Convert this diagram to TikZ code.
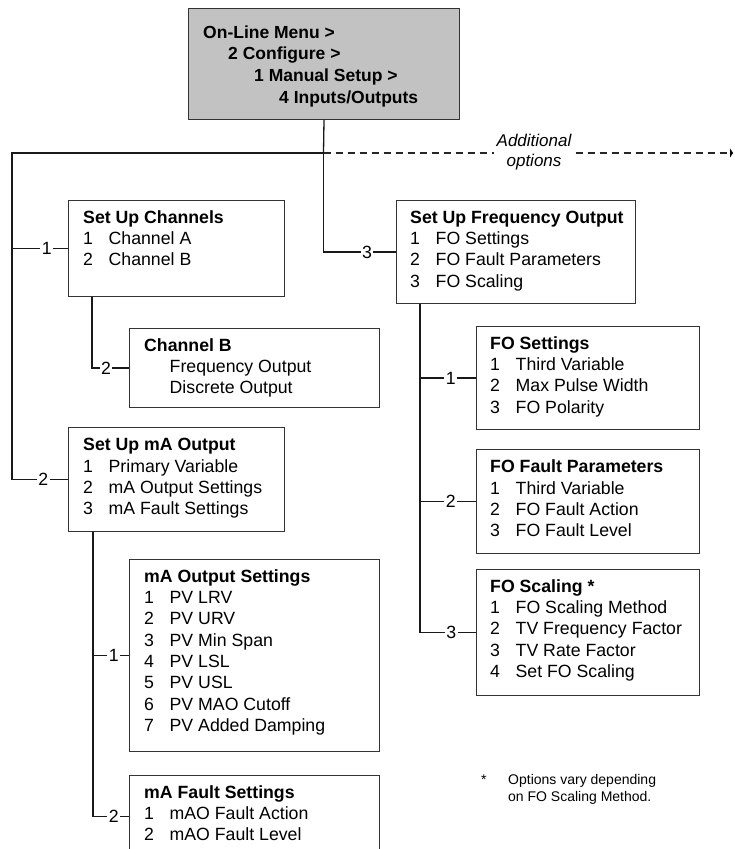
\documentclass[tikz,border=0pt]{standalone}
\usepackage{fontspec}
\setmainfont{Liberation Sans}
\usetikzlibrary{arrows.meta}

% one menu line: number column, then the entry
\newcommand\itm[2]{\makebox[25.5pt][l]{#1}#2}
% title plus entries, first baseline is the reference point
\newcommand\menulines[2]{\begin{tabular}[t]{@{}l@{}}\textbf{#1}\\#2\end{tabular}}

\tikzset{
  menubox/.style={draw=black!80, line width=1pt, fill=white, inner sep=0pt, anchor=north west},
  menutext/.style={anchor=base west, inner sep=0pt, font=\fontsize{17.7pt}{21.3pt}\selectfont},
  wire/.style={draw=black!90, line width=1.3pt},
  morewire/.style={draw=black!85, line width=1.1pt, dash pattern=on 7pt off 5pt},
  branchlabel/.style={fill=white, inner xsep=1.5pt, inner ysep=0.5pt, font=\fontsize{17.7pt}{21.3pt}\selectfont},
}

\begin{document}
\begin{tikzpicture}[x=1pt, y=-1pt]
\useasboundingbox (0,0) rectangle (734,849);
\clip (0,0) rectangle (734,849);

% ---- menu path box ----
\node[menubox, fill={rgb,255:red,194;green,194;blue,194}, minimum width=271pt, minimum height=111pt] (top) at (188,8) {};
\node[anchor=base west, inner sep=0pt, font=\bfseries\fontsize{17.5pt}{21.6pt}\selectfont] (top-t)
  at ([xshift=15pt, yshift=-30.3pt]top.north west)
  {\begin{tabular}[t]{@{}l@{}}On-Line Menu >\\\hspace{25pt}2 Configure >\\\hspace{51pt}1 Manual Setup >\\\hspace{76pt}4 Inputs/Outputs\end{tabular}};

% ---- menu boxes ----
\node[menubox, minimum width=216pt, minimum height=96pt]  (suc)  at (68,200) {};
\node[menubox, minimum width=250pt, minimum height=79pt]  (chb)  at (129,328) {};
\node[menubox, minimum width=216pt, minimum height=104pt] (suma) at (68,427) {};
\node[menubox, minimum width=250pt, minimum height=192pt] (maos) at (129,559) {};
\node[menubox, minimum width=250pt, minimum height=82pt]  (mafs) at (129,775) {};
\node[menubox, minimum width=239pt, minimum height=103pt] (fo)   at (396,200) {};
\node[menubox, minimum width=223pt, minimum height=103pt] (fos)  at (476,326) {};
\node[menubox, minimum width=223pt, minimum height=104pt] (fofp) at (476,449) {};
\node[menubox, minimum width=223pt, minimum height=126pt] (fosc) at (476,569) {};

% ---- box contents ----
\node[menutext] (suc-t) at ([xshift=15pt, yshift=-23.3pt]suc.north west)
  {\menulines{Set Up Channels}{\itm{1}{Channel A}\\\itm{2}{Channel B}}};
\node[menutext] (chb-t) at ([xshift=15pt, yshift=-23.3pt]chb.north west)
  {\menulines{Channel B}{\hspace{25.5pt}Frequency Output\\\hspace{25.5pt}Discrete Output}};
\node[menutext] (suma-t) at ([xshift=15pt, yshift=-23.8pt]suma.north west)
  {\menulines{Set Up mA Output}{\itm{1}{Primary Variable}\\\itm{2}{mA Output Settings}\\\itm{3}{mA Fault Settings}}};
\node[menutext] (maos-t) at ([xshift=15pt, yshift=-23.3pt]maos.north west)
  {\menulines{mA Output Settings}{\itm{1}{PV LRV}\\\itm{2}{PV URV}\\\itm{3}{PV Min Span}\\\itm{4}{PV LSL}\\\itm{5}{PV USL}\\\itm{6}{PV MAO Cutoff}\\\itm{7}{PV Added Damping}}};
\node[menutext] (mafs-t) at ([xshift=15pt, yshift=-23.3pt]mafs.north west)
  {\menulines{mA Fault Settings}{\itm{1}{mAO Fault Action}\\\itm{2}{mAO Fault Level}}};
\node[menutext] (fo-t) at ([xshift=14pt, yshift=-23.3pt]fo.north west)
  {\menulines{Set Up Frequency Output}{\itm{1}{FO Settings}\\\itm{2}{FO Fault Parameters}\\\itm{3}{FO Scaling}}};
\node[menutext] (fos-t) at ([xshift=14pt, yshift=-23.3pt]fos.north west)
  {\menulines{FO Settings}{\itm{1}{Third Variable}\\\itm{2}{Max Pulse Width}\\\itm{3}{FO Polarity}}};
\node[menutext] (fofp-t) at ([xshift=14pt, yshift=-23.8pt]fofp.north west)
  {\menulines{FO Fault Parameters}{\itm{1}{Third Variable}\\\itm{2}{FO Fault Action}\\\itm{3}{FO Fault Level}}};
\node[menutext] (fosc-t) at ([xshift=14pt, yshift=-23.3pt]fosc.north west)
  {\menulines{FO Scaling *}{\itm{1}{FO Scaling Method}\\\itm{2}{TV Frequency Factor}\\\itm{3}{TV Rate Factor}\\\itm{4}{Set FO Scaling}}};

% ---- connectors ----
\coordinate (hub) at (323.5,153);
\coordinate (busL) at (12,153);
\coordinate (more-end) at (733,153);
\coordinate (sucdrop) at ([xshift=24pt]suc.south west);
\coordinate (sumadrop) at ([xshift=25pt]suma.south west);
\coordinate (fodrop) at ([xshift=24pt]fo.south west);

\draw[morewire, -{Triangle[length=3pt, width=9pt, color=black, fill=black]}] (hub) -- (more-end);
\draw[wire] (top.south) -- (hub);
\draw[wire] (hub) -- (busL) |- node[branchlabel, pos=0.78] {2} (suma.west);
\draw[wire] (busL |- suc.west) -- node[branchlabel, pos=0.62] {1} (suc.west);
\draw[wire] (hub) |- node[branchlabel, pos=0.8] {3} (fo.west);

\draw[wire] (sucdrop) |- node[branchlabel, pos=0.69] {2} (chb.west);

\draw[wire] (sumadrop) |- node[branchlabel, pos=0.79] {2} (mafs.west);
\draw[wire] (sumadrop |- maos.west) -- node[branchlabel, pos=0.58] {1} (maos.west);

\draw[wire] (fodrop) |- node[branchlabel, pos=0.78] {3} (fosc.west);
\draw[wire] (fodrop |- fos.west) -- node[branchlabel, pos=0.55] {1} (fos.west);
\draw[wire] (fodrop |- fofp.west) -- node[branchlabel, pos=0.55] {2} (fofp.west);

% label on the dashed branch
\node[fill=white, inner xsep=3pt, inner ysep=0pt, align=center,
      font=\itshape\fontsize{17pt}{20pt}\selectfont] (more) at (534,152) {Additional\\options};

% ---- footnote ----
\node[anchor=base west, inner sep=0pt, font=\fontsize{14pt}{17pt}\selectfont] (star) at (481,784) {*};
\node[anchor=base west, inner sep=0pt, font=\fontsize{14pt}{17pt}\selectfont] (note) at (508,784)
  {\begin{tabular}[t]{@{}l@{}}Options vary depending\\on FO Scaling Method.\end{tabular}};
\end{tikzpicture}
\end{document}
